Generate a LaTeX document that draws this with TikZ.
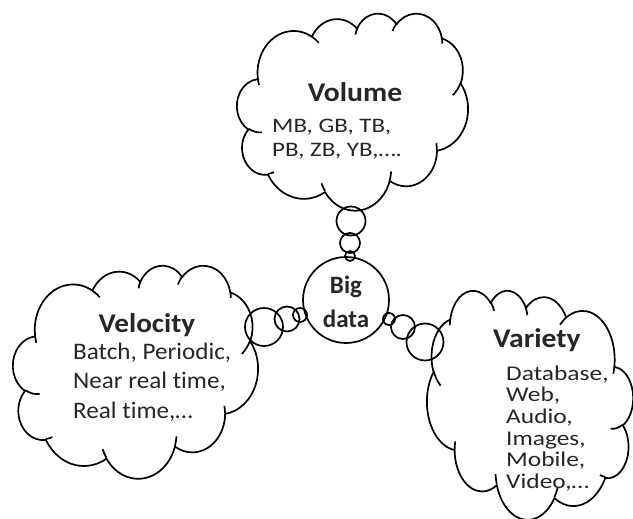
\documentclass[tikz,border=0pt]{standalone}
\usepackage{fontspec}
\usepackage{graphicx}
\setmainfont{Carlito}[Ligatures=NoCommon]
\tikzset{
  cl/.style={line width=1.7pt, line join=round},
  bub/.style={circle, draw, line width=1.7pt, inner sep=0pt},
  txt/.style={inner sep=0pt, text=black!85, anchor=base west},
  ttl/.style={inner sep=0pt, text=black!85, anchor=base, font=\bfseries\fontsize{27}{30}\selectfont},
}
\newcommand\oa[4]{%
 \pgfextra{%
  \pgfmathparse{atan2((#1)*sin(#3),(#2)*cos(#3))}\xdef\oaA{\pgfmathresult}%
  \pgfmathparse{atan2((#1)*sin((#3)+(#4)),(#2)*cos((#3)+(#4)))}\xdef\oaB{\pgfmathresult}%
  \pgfmathparse{mod((\oaB)-(\oaA)+720,360)}\xdef\oaD{\pgfmathresult}%
 }
 arc[start angle=\oaA, delta angle=\oaD, x radius=#1, y radius=#2]
}
\newcommand\cloudouter{%
 (39.00,143.70) \oa{67.53}{91.90}{-190.4875}{123.7805}
 \oa{53.33}{72.67}{-144.1024}{89.9452}
 \oa{43.65}{59.45}{-145.8079}{99.7230}
 \oa{48.57}{65.95}{-130.9861}{117.2417}
 \oa{53.33}{72.73}{-78.7089}{109.0269}
 \oa{67.75}{92.20}{-46.2673}{130.2690}
 \oa{57.85}{78.67}{0.6250}{114.0333}
 \oa{67.52}{92.15}{22.4516}{115.1726}
 \oa{77.20}{105.43}{66.2426}{75.7110}
 \oa{43.60}{59.18}{-274.9421}{146.7356}
 \oa{43.45}{59.45}{-246.8285}{152.5189} -- cycle
}
\newcommand\cloudinner{%
 (46.93,261.77) \oa{43.45}{59.45}{86.7420}{26.4295}
 (69.28,348.99) \oa{43.60}{59.18}{73.6105}{11.4475}
 (164.78,390.90) \oa{67.52}{92.15}{137.6242}{14.0811}
 (288.27,347.51) \oa{67.52}{92.15}{6.4533}{15.9984}
 (372.80,285.67) \oa{57.85}{78.67}{-14.4}{15.025}
 (417.98,153.54) \oa{53.33}{72.73}{30.3180}{27.7515}
 (383.24,54.26) \oa{48.57}{65.95}{-13.7443}{14.8589}
 (290.78,39.52) \oa{48.57}{65.95}{-149.1815}{18.1954}
 (221.41,47.20) \oa{43.65}{59.45}{-163.4943}{17.6864}
 (140.00,51.92) \oa{67.53}{91.90}{-66.7070}{12.3194}
 (41.27,157.89) \oa{67.53}{91.90}{157.6544}{11.8582}
}
\newcommand\sx[2]{\scalebox{#1}[1]{#2}}
\begin{document}
\begin{tikzpicture}[x=1pt,y=-1pt]
\useasboundingbox (0,0) rectangle (633,519);
% Volume cloud
\begin{scope}[shift={(237,13)}, x=0.5347pt, y=-0.4560pt]
 \draw[cl] \cloudouter;
 \draw[cl] \cloudinner;
\end{scope}
% Velocity cloud
\begin{scope}[shift={(13,265)}, x=0.5671pt, y=-0.4931pt]
 \draw[cl] \cloudouter;
 \draw[cl] \cloudinner;
\end{scope}
% Variety cloud (mirrored)
\begin{scope}[shift={(633,290)}, x=-0.4769pt, y=-0.5301pt]
 \draw[cl] \cloudouter;
 \draw[cl] \cloudinner;
\end{scope}
% central circle
\node[bub, minimum size=86pt] (big) at (346,300) {};
\node[inner sep=0pt, anchor=base, text=black!85, font=\bfseries\fontsize{25}{28}\selectfont] (bigA) at (346,293) {Big};
\node[inner sep=0pt, anchor=base, text=black!85, font=\bfseries\fontsize{25}{28}\selectfont] (bigB) at (346,327) {data};
% bubbles to Volume
\node[bub, minimum size=29pt] (u1) at (351,221) {};
\node[bub, minimum size=20pt] (u2) at (350,243) {};
\node[bub, minimum size=10pt] (u3) at (350,256) {};
% bubbles to Velocity
\node[bub, minimum size=38pt] (l1) at (264,327) {};
\node[bub, minimum size=25pt] (l2) at (287,319) {};
\node[bub, minimum size=14pt] (l3) at (300,315) {};
% bubbles to Variety
\node[bub, minimum size=12pt] (r1) at (389,319) {};
\node[bub, minimum size=24pt] (r2) at (403,327) {};
\node[bub, minimum size=37pt] (r3) at (425,342) {};
% Volume text
\node[ttl] (volT) at (355,102) {\sx{1.1}{Volume}};
\node[txt, font=\fontsize{20.6}{24}\selectfont] (vol1) at (272,132) {\sx{1.21}{MB, GB, TB,}};
\node[txt, font=\fontsize{20.6}{24}\selectfont] (vol2) at (272,157) {\sx{1.21}{PB, ZB, YB,….}};
% Velocity text
\node[ttl] (velT) at (147,332) {\sx{1.08}{Velocity}};
\node[txt, font=\fontsize{23.7}{28}\selectfont] (vel1) at (73,359) {\sx{1.06}{Batch, Periodic,}};
\node[txt, font=\fontsize{23.7}{28}\selectfont] (vel2) at (73,388) {\sx{1.06}{Near real time,}};
\node[txt, font=\fontsize{23.7}{28}\selectfont] (vel3) at (73,418) {\sx{1.06}{Real time,…}};
% Variety text
\node[ttl] (varT) at (537,347) {\sx{1.1}{Variety}};
\node[txt, font=\fontsize{21}{24}\selectfont] (var1) at (506,380) {\sx{1.21}{Database,}};
\node[txt, font=\fontsize{21}{24}\selectfont] (var2) at (506,401.7) {\sx{1.21}{Web,}};
\node[txt, font=\fontsize{21}{24}\selectfont] (var3) at (506,423) {\sx{1.21}{Audio,}};
\node[txt, font=\fontsize{21}{24}\selectfont] (var4) at (506,445) {\sx{1.21}{Images,}};
\node[txt, font=\fontsize{21}{24}\selectfont] (var5) at (506,466.7) {\sx{1.21}{Mobile,}};
\node[txt, font=\fontsize{21}{24}\selectfont] (var6) at (506,488) {\sx{1.21}{Video,…}};
\end{tikzpicture}
\end{document}
